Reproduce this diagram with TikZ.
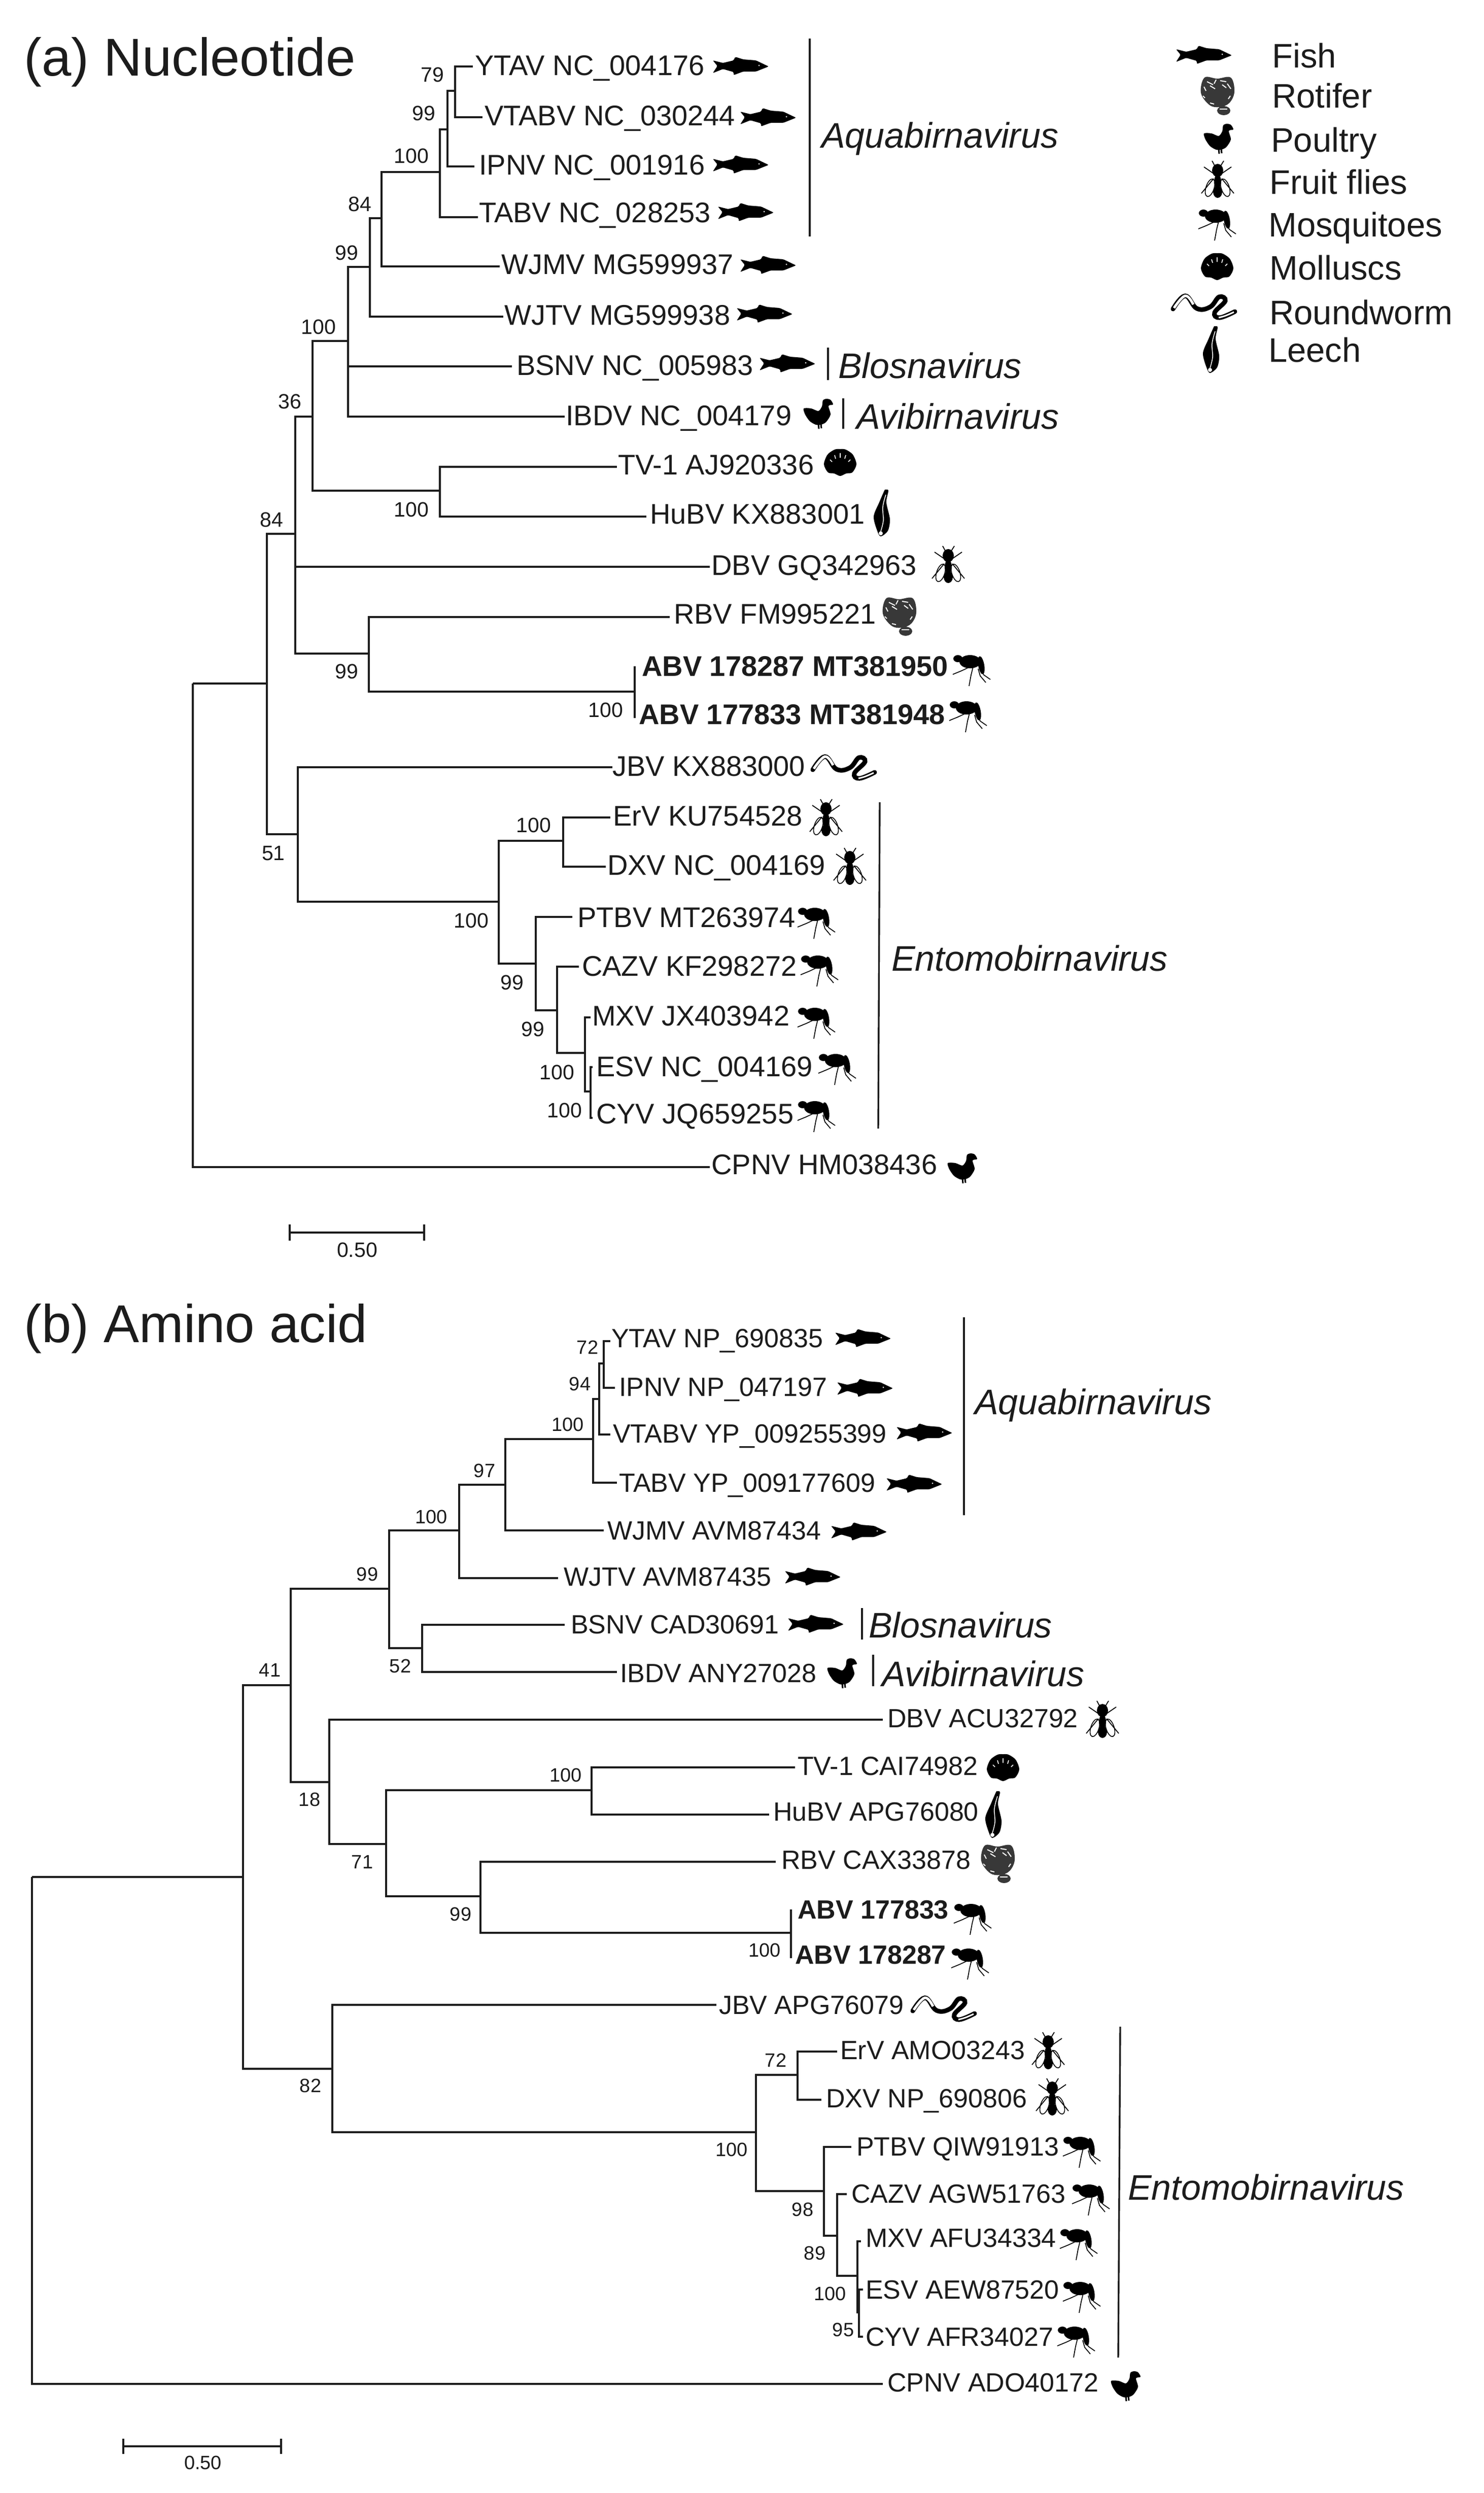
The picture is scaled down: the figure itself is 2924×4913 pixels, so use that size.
\documentclass[tikz,border=0pt]{standalone}
\usepackage{fontspec}
\setmainfont{Liberation Sans}
\definecolor{ink}{HTML}{1C1C1C}
\tikzset{
  branch/.style={draw=ink,line width=3.4pt},
  cladebar/.style={draw=ink,line width=3.4pt},
  leaflabel/.style={anchor=west,inner sep=0pt,text=ink,font=\fontsize{56}{60}\selectfont,text height=40pt,text depth=0pt},
  support/.style={anchor=center,inner sep=0pt,text=ink,font=\fontsize{41}{44}\selectfont,text height=29pt,text depth=0pt},
  cladelabel/.style={anchor=west,inner sep=0pt,text=ink,font=\fontsize{70}{76}\selectfont\itshape,text height=50pt,text depth=0pt},
  paneltitle/.style={anchor=west,inner sep=0pt,text=ink,font=\fontsize{105}{112}\selectfont,text height=75pt,text depth=0pt},
  legendlabel/.style={anchor=west,inner sep=0pt,text=ink,font=\fontsize{67}{72}\selectfont,text height=48pt,text depth=0pt},
  fishicon/.pic={
    \fill[black,rounded corners=2pt] (-55,-11) -- (-46,0) -- (-55,14) -- (-35,6) -- (-14,12) -- (-14,18) -- (5,11) -- (30,11) -- (55,1) -- (30,-11) -- (5,-13) -- (-11,-18) -- (-14,-11) -- (-35,-6) -- cycle;
    \fill[white] (36,-1) circle (1.5pt);
  },
  rotifericon/.pic={
    \fill[black!78] plot[smooth cycle,tension=.6] coordinates {(-25,-36) (0,-34) (27,-36) (34,-8) (24,14) (5,22) (-15,18) (-32,-6)};
    \fill[black!78] (13,29) ellipse [x radius=13pt,y radius=9pt];
    \draw[white,line width=2pt] (-20,-28) -- (-8,-22) (-2,-32) -- (-6,-24) (6,-30) -- (18,-28) (20,-24) -- (27,-14) (-26,-18) -- (-22,-10) (-28,0) -- (-24,4) (26,0) -- (22,6) (-14,14) -- (-6,16) (-14,-20) -- (-4,-14) (10,-22) -- (18,-16);
    \draw[white,line width=1.5pt] (5,26) -- (20,26);
  },
  poultryicon/.pic={
    \fill[black] plot[smooth cycle,tension=.45] coordinates {(-29,-10) (-14,-10) (0,-5) (7,-14) (9,-26) (16,-29) (24,-27) (29,-18) (20,-15) (24,2) (15,17) (5,22) (-5,22) (-17,15) (-26,2)};
    \draw[black,line width=3pt] (0,20) -- (1,30) (5,20) -- (6,29);
  },
  flyicon/.pic={
    \draw[black,line width=1.6pt] (-15,16) ellipse [x radius=8pt,y radius=18pt,rotate=-18];
    \draw[black,line width=1.6pt] (15,16) ellipse [x radius=8pt,y radius=18pt,rotate=18];
    \fill[black] (0,-18) ellipse [x radius=11pt,y radius=13pt];
    \fill[black] (0,4) ellipse [x radius=7pt,y radius=14pt];
    \fill[black] (0,24) ellipse [x radius=9pt,y radius=12pt];
    \draw[black,line width=1.8pt] (-8,-12) -- (-27,-25) (8,-12) -- (27,-25) (-4,-24) -- (-11,-37) (4,-24) -- (12,-37) (-8,-2) -- (-32,27) (8,-2) -- (32,27);
  },
  mosquitoicon/.pic={
    \fill[black] (-27,-22) ellipse [x radius=9pt,y radius=7pt];
    \fill[black] (-3,-16) ellipse [x radius=21pt,y radius=13pt];
    \fill[black] (19,-9) ellipse [x radius=6pt,y radius=18pt,rotate=10];
    \draw[black,line width=1.7pt] (-3,-6) -- (-20,2) -- (-37,9) (3,-6) -- (-1,10) -- (-5,32) (13,-2) -- (17,12) -- (28,25) (18,-2) -- (24,10) -- (37,19);
  },
  molluscicon/.pic={
    \fill[black] plot[smooth cycle,tension=.5] coordinates {(0,27) (-12,22) (-24,20) (-32,4) (-25,-15) (-11,-25) (0,-26) (11,-25) (25,-15) (32,4) (24,20) (12,22)};
    \draw[white,line width=1.6pt] (-20,-5) -- (-16,-1) (-11,-14) -- (-9,-7) (0,-18) -- (0,-9) (11,-14) -- (9,-7) (20,-5) -- (16,-1);
  },
  wormicon/.pic={
    \draw[black,line width=9pt,line cap=round] plot[smooth,tension=.7] coordinates {(-62,5) (-38,-21) (-15,4) (11,1) (29,-19) (41,-11) (20,12) (30,22) (60,10)};
    \draw[white,line width=5pt] plot[smooth,tension=.7] coordinates {(-60,3) (-38,-21) (-22,-4)};
    \draw[white,line width=3pt] plot[smooth,tension=.7] coordinates {(28,22) (42,18) (58,11)};
  },
  leechicon/.pic={
    \fill[black] plot[smooth cycle,tension=.5] coordinates {(7,-46) (13,-44) (9,-21) (16,12) (12,35) (-2,46) (-9,35) (-16,7) (-5,-21) (5,-44)};
    \draw[white,line width=1.5pt] plot[smooth,tension=.6] coordinates {(8,-36) (2,-12) (3,15) (-2,36)};
    \fill[white] (-2,40) circle (4pt);
  }
}
\newcommand\Tn[4]{\coordinate (#1) at (#3,#4); \draw[branch] (#2) |- (#1);}
\newcommand\Lf[7]{\coordinate (#1tip) at (#3,#4); \node[leaflabel] (#1) at (#5,#6) {#7}; \draw[branch] (#2) |- (#1tip);}
\newcommand\Sp[4]{\node[support] (#1) at (#2,#3) {#4};}
\newcommand\Ic[4]{\pic (#1) at (#3,#4) {#2};}
\newcommand\Cb[5]{\coordinate (#1t) at (#2,#3); \coordinate (#1b) at (#4,#5); \draw[cladebar] (#1t) -- (#1b);}
\begin{document}
\begin{tikzpicture}[x=1pt,y=-1pt]
\useasboundingbox (0,0) rectangle (2924,4913);
\fill[white] (0,0) rectangle (2924,4913);
% ---------- panel a
\node[paneltitle] (ta) at (47,112) {(a) Nucleotide};
\coordinate (a0) at (380,1347);
\Tn{a1}{a0}{526}{1347}
\Tn{a2}{a1}{582}{1052}
\Tn{a3}{a2}{616}{821}
\Tn{a4}{a3}{686}{672}
\Tn{a5}{a4}{729}{526}
\Tn{a6}{a5}{752}{430}
\Tn{a7}{a6}{867}{339}
\Tn{a8}{a7}{882}{255}
\Tn{a9}{a8}{897}{179}
\Lf{aYTAV}{a9}{932}{131}{936}{128}{YTAV NC\_004176}
\Lf{aVTABV}{a9}{951}{231}{955}{227}{VTABV NC\_030244}
\Lf{aIPNV}{a8}{935}{328}{944}{324}{IPNV NC\_001916}
\Lf{aTABV}{a7}{942}{428}{944}{418}{TABV NC\_028253}
\Lf{aWJMV}{a6}{985}{525}{988}{520}{WJMV MG599937}
\Lf{aWJTV}{a5}{992}{624}{994}{620}{WJTV MG599938}
\Lf{aBSNV}{a4}{1009}{722}{1018}{719}{BSNV NC\_005983}
\Lf{aIBDV}{a4}{1113}{821}{1115}{818}{IBDV NC\_004179}
\Tn{atv}{a3}{867}{967}
\Lf{aTV}{atv}{1216}{920}{1218}{915}{TV-1 AJ920336}
\Lf{aHuBV}{atv}{1274}{1018}{1281}{1012}{HuBV KX883001}
\Lf{aDBV}{a2}{1399}{1117}{1402}{1113}{DBV GQ342963}
\Tn{ar}{a2}{727}{1288}
\Lf{aRBV}{ar}{1320}{1216}{1328}{1209}{RBV FM995221}
\Tn{aab}{ar}{1251}{1363}
\Lf{aABVa}{aab}{1251}{1313}{1265}{1312}{\bfseries ABV 178287 MT381950}
\Lf{aABVb}{aab}{1251}{1415}{1259}{1407}{\bfseries ABV 177833 MT381948}
\Tn{b1}{a1}{587}{1644}
\Lf{aJBV}{b1}{1207}{1512}{1207}{1509}{JBV KX883000}
\Tn{b2}{b1}{983}{1777}
\Tn{b3}{b2}{1110}{1657}
\Lf{aErV}{b3}{1203}{1611}{1208}{1607}{ErV KU754528}
\Lf{aDXV}{b3}{1194}{1708}{1197}{1704}{DXV NC\_004169}
\Tn{b4}{b2}{1056}{1899}
\Lf{aPTBV}{b4}{1128}{1807}{1138}{1807}{PTBV MT263974}
\Tn{b5}{b4}{1098}{1991}
\Lf{aCAZV}{b5}{1141}{1905}{1147}{1903}{CAZV KF298272}
\Tn{b6}{b5}{1153}{2075}
\Lf{aMXV}{b6}{1164}{2005}{1167}{2001}{MXV JX403942}
\Tn{b7}{b6}{1164}{2151}
\Lf{aESV}{b7}{1168}{2103}{1175}{2101}{ESV NC\_004169}
\Lf{aCYV}{b7}{1168}{2203}{1175}{2194}{CYV JQ659255}
\Lf{aCPNV}{a0}{1399}{2300}{1402}{2294}{CPNV HM038436}
% supports a
\Sp{sa1}{852}{147}{79}\Sp{sa2}{835}{223}{99}\Sp{sa3}{811}{307}{100}\Sp{sa4}{709}{402}{84}
\Sp{sa5}{683}{498}{99}\Sp{sa6}{628}{644}{100}\Sp{sa7}{571}{791}{36}\Sp{sa8}{811}{1004}{100}
\Sp{sa9}{535}{1024}{84}\Sp{sa10}{683}{1323}{99}\Sp{sa11}{1194}{1399}{100}\Sp{sa12}{539}{1681}{51}
\Sp{sa13}{1052}{1626}{100}\Sp{sa14}{929}{1814}{100}\Sp{sa15}{1009}{1936}{99}\Sp{sa16}{1050}{2028}{99}
\Sp{sa17}{1098}{2113}{100}\Sp{sa18}{1113}{2188}{100}
% icons a
\Ic{ia1}{fishicon}{1460}{130}\Ic{ia2}{fishicon}{1514}{231}\Ic{ia3}{fishicon}{1460}{324}\Ic{ia4}{fishicon}{1470}{418}
\Ic{ia5}{fishicon}{1514}{522}\Ic{ia6}{fishicon}{1507}{618}\Ic{ia7}{fishicon}{1552}{716}\Ic{ia8}{poultryicon}{1613}{815}
\Ic{ia9}{molluscicon}{1656}{911}\Ic{ia10}{leechicon}{1738}{1011}\Ic{ia11}{flyicon}{1869}{1113}\Ic{ia12}{rotifericon}{1772}{1215}
\Ic{ia13}{mosquitoicon}{1915}{1320}\Ic{ia14}{mosquitoicon}{1908}{1411}\Ic{ia15}{wormicon}{1664}{1512}\Ic{ia16}{flyicon}{1628}{1612}
\Ic{ia17}{flyicon}{1675}{1708}\Ic{ia18}{mosquitoicon}{1609}{1818}\Ic{ia19}{mosquitoicon}{1615}{1912}\Ic{ia20}{mosquitoicon}{1609}{2015}
\Ic{ia21}{mosquitoicon}{1650}{2106}\Ic{ia22}{mosquitoicon}{1609}{2199}\Ic{ia23}{poultryicon}{1897}{2302}
% clades a
\Cb{ca1}{1596}{76}{1596}{466}
\node[cladelabel] (lca1) at (1619,266) {Aquabirnavirus};
\Cb{ca2}{1632}{685}{1632}{749}
\node[cladelabel] (lca2) at (1652,720) {Blosnavirus};
\Cb{ca3}{1662}{785}{1662}{845}
\node[cladelabel] (lca3) at (1688,820) {Avibirnavirus};
\Cb{ca4}{1734}{1581}{1731}{2224}
\node[cladelabel] (lca4) at (1757,1888) {Entomobirnavirus};
% scale a
\coordinate (sal) at (571,2429);\coordinate (sar) at (836,2429);
\draw[branch] (sal) -- (sar);
\draw[branch] ([yshift=16pt]sal) -- ([yshift=-16pt]sal) ([yshift=16pt]sar) -- ([yshift=-16pt]sar);
\node[support] (sav) at (704,2463) {0.50};
% ---------- panel b
\tikzset{
  leaflabel/.append style={font=\fontsize{52}{56}\selectfont,text height=37pt},
  support/.append style={font=\fontsize{38}{42}\selectfont,text height=27pt}
}
\node[paneltitle] (tb) at (47,2608) {(b) Amino acid};
\coordinate (p0) at (63,3699);
\Tn{p1}{p0}{479}{3699}
\Tn{p2}{p1}{573}{3321}
\Tn{p3}{p2}{767}{3131}
\Tn{p4}{p3}{905}{3016}
\Tn{p5}{p4}{996}{2926}
\Tn{p6}{p5}{1169}{2836}
\Tn{p7}{p6}{1181}{2757}
\Tn{p8}{p7}{1190}{2687}
\Lf{bYTAV}{p8}{1203}{2643}{1205}{2637}{YTAV NP\_690835}
\Lf{bIPNV}{p8}{1212}{2735}{1220}{2733}{IPNV NP\_047197}
\Lf{bVTABV}{p7}{1203}{2827}{1208}{2825}{VTABV YP\_009255399}
\Lf{bTABV}{p6}{1216}{2922}{1220}{2922}{TABV YP\_009177609}
\Lf{bWJMV}{p5}{1190}{3016}{1197}{3016}{WJMV AVM87434}
\Lf{bWJTV}{p4}{1100}{3110}{1111}{3107}{WJTV AVM87435}
\Tn{p9}{p3}{832}{3248}
\Lf{bBSNV}{p9}{1113}{3202}{1125}{3201}{BSNV CAD30691}
\Lf{bIBDV}{p9}{1216}{3295}{1222}{3297}{IBDV ANY27028}
\Tn{q1}{p2}{649}{3512}
\Lf{bDBV}{q1}{1740}{3389}{1749}{3386}{DBV ACU32792}
\Tn{q2}{q1}{761}{3634}
\Tn{q3}{q2}{1166}{3528}
\Lf{bTV}{q3}{1567}{3483}{1572}{3480}{TV-1 CAI74982}
\Lf{bHuBV}{q3}{1516}{3576}{1524}{3570}{HuBV APG76080}
\Tn{q4}{q2}{947}{3737}
\Lf{bRBV}{q4}{1529}{3669}{1540}{3665}{RBV CAX33878}
\Tn{q5}{q4}{1559}{3809}
\Lf{bABVa}{q5}{1559}{3763}{1572}{3763}{\bfseries ABV 177833}
\Lf{bABVb}{q5}{1559}{3859}{1567}{3852}{\bfseries ABV 178287}
\Tn{r1}{p1}{655}{4077}
\Lf{bJBV}{r1}{1412}{3951}{1417}{3951}{JBV APG76079}
\Tn{r2}{r1}{1490}{4202}
\Tn{r3}{r2}{1572}{4089}
\Lf{bErV}{r3}{1650}{4043}{1656}{4040}{ErV AMO03243}
\Lf{bDXV}{r3}{1619}{4138}{1628}{4135}{DXV NP\_690806}
\Tn{r4}{r2}{1624}{4318}
\Lf{bPTBV}{r4}{1678}{4231}{1688}{4230}{PTBV QIW91913}
\Tn{r5}{r4}{1650}{4406}
\Lf{bCAZV}{r5}{1669}{4324}{1678}{4323}{CAZV AGW51763}
\Tn{r6}{r5}{1690}{4485}
\Lf{bMXV}{r6}{1697}{4417}{1706}{4410}{MXV AFU34334}
\Tn{r7}{r6}{1693}{4557}
\Lf{bESV}{r7}{1701}{4512}{1706}{4512}{ESV AEW87520}
\Lf{bCYV}{r7}{1701}{4605}{1706}{4605}{CYV AFR34027}
\Lf{bCPNV}{p0}{1740}{4698}{1749}{4695}{CPNV ADO40172}
% supports b
\Sp{sb1}{1158}{2655}{72}\Sp{sb2}{1143}{2727}{94}\Sp{sb3}{1119}{2807}{100}\Sp{sb4}{955}{2898}{97}
\Sp{sb5}{850}{2989}{100}\Sp{sb6}{724}{3102}{99}\Sp{sb7}{532}{3291}{41}\Sp{sb8}{789}{3283}{52}
\Sp{sb9}{610}{3546}{18}\Sp{sb10}{1115}{3498}{100}\Sp{sb11}{714}{3669}{71}\Sp{sb12}{908}{3772}{99}
\Sp{sb13}{1507}{3843}{100}\Sp{sb14}{612}{4110}{82}\Sp{sb15}{1529}{4060}{72}\Sp{sb16}{1442}{4236}{100}
\Sp{sb17}{1582}{4354}{98}\Sp{sb18}{1606}{4440}{89}\Sp{sb19}{1636}{4520}{100}\Sp{sb20}{1662}{4591}{95}
% icons b
\Ic{ib1}{fishicon}{1701}{2637}\Ic{ib2}{fishicon}{1705}{2735}\Ic{ib3}{fishicon}{1822}{2823}\Ic{ib4}{fishicon}{1802}{2924}
\Ic{ib5}{fishicon}{1693}{3018}\Ic{ib6}{fishicon}{1602}{3107}\Ic{ib7}{fishicon}{1608}{3200}\Ic{ib8}{poultryicon}{1660}{3297}
\Ic{ib9}{flyicon}{2173}{3389}\Ic{ib10}{molluscicon}{1977}{3483}\Ic{ib11}{leechicon}{1958}{3576}\Ic{ib12}{rotifericon}{1966}{3673}
\Ic{ib13}{mosquitoicon}{1917}{3781}\Ic{ib14}{mosquitoicon}{1912}{3869}\Ic{ib15}{wormicon}{1861}{3958}\Ic{ib16}{flyicon}{2066}{4042}
\Ic{ib17}{flyicon}{2074}{4133}\Ic{ib18}{mosquitoicon}{2132}{4240}\Ic{ib19}{mosquitoicon}{2150}{4334}\Ic{ib20}{mosquitoicon}{2126}{4422}
\Ic{ib21}{mosquitoicon}{2132}{4526}\Ic{ib22}{mosquitoicon}{2121}{4614}\Ic{ib23}{poultryicon}{2219}{4702}
% clades b
\Cb{cb1}{1900}{2596}{1900}{2986}
\node[cladelabel] (lcb1) at (1921,2762) {Aquabirnavirus};
\Cb{cb2}{1699}{3169}{1699}{3231}
\node[cladelabel] (lcb2) at (1712,3202) {Blosnavirus};
\Cb{cb3}{1721}{3261}{1721}{3323}
\node[cladelabel] (lcb3) at (1738,3298) {Avibirnavirus};
\Cb{cb4}{2208}{3994}{2204}{4646}
\node[cladelabel] (lcb4) at (2223,4310) {Entomobirnavirus};
% scale b
\coordinate (sbl) at (243,4821);\coordinate (sbr) at (554,4821);
\draw[branch] (sbl) -- (sbr);
\draw[branch] ([yshift=15pt]sbl) -- ([yshift=-15pt]sbl) ([yshift=15pt]sbr) -- ([yshift=-15pt]sbr);
\node[support] (sbv) at (400,4853) {0.50};
% ---------- legend
\Ic{lg1}{fishicon}{2373}{108}\node[legendlabel] (lt1) at (2507,109) {Fish};
\Ic{lg2}{rotifericon}{2399}{189}\node[legendlabel] (lt2) at (2507,188) {Rotifer};
\Ic{lg3}{poultryicon}{2402}{273}\node[legendlabel] (lt3) at (2505,275) {Poultry};
\Ic{lg4}{flyicon}{2400}{354}\node[legendlabel] (lt4) at (2502,358) {Fruit flies};
\Ic{lg5}{mosquitoicon}{2399}{442}\node[legendlabel] (lt5) at (2500,442) {Mosquitoes};
\Ic{lg6}{molluscicon}{2399}{525}\node[legendlabel] (lt6) at (2502,527) {Molluscs};
\Ic{lg7}{wormicon}{2374}{604}\node[legendlabel] (lt7) at (2502,615) {Roundworm};
\Ic{lg8}{leechicon}{2387}{689}\node[legendlabel] (lt8) at (2500,689) {Leech};
\end{tikzpicture}
\end{document}
